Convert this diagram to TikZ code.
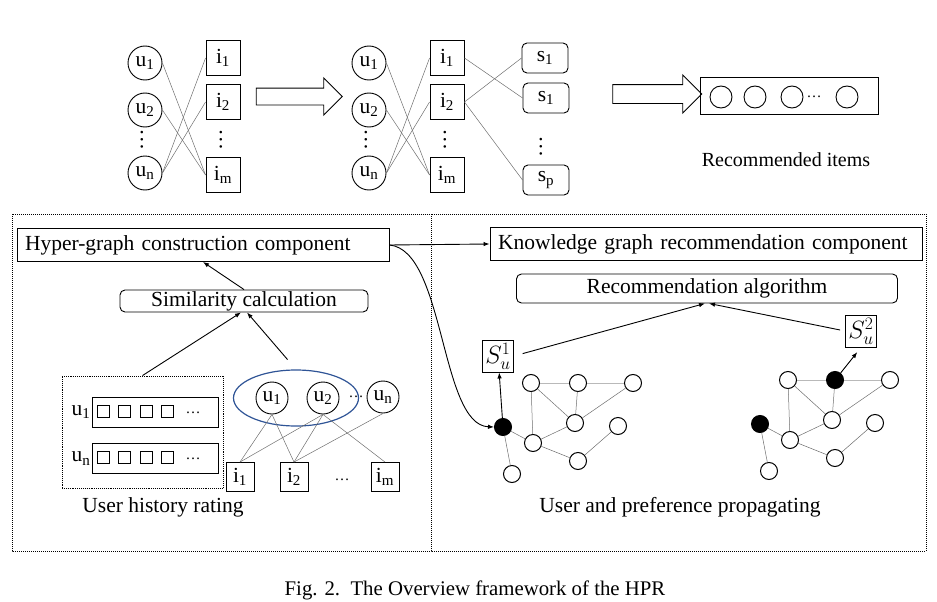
\RequirePackage{fix-cm}
\documentclass[tikz,border=0pt]{standalone}
\usepackage{fontspec}
\setmainfont{Liberation Serif}
\usepackage{graphicx}
\usetikzlibrary{arrows.meta,positioning,shapes.geometric,shapes.arrows}
\definecolor{HyperBlue}{RGB}{47,84,150}
\definecolor{LinkGray}{RGB}{110,110,110}
\definecolor{SoftGray}{RGB}{185,185,185}
\newcommand{\vdotstext}{\rotatebox{90}{\dots}}
\tikzset{
  user/.style={circle,draw,line width=0.9pt,minimum size=34pt,inner sep=0pt},
  item/.style={draw,line width=0.9pt,minimum width=34pt,minimum height=35pt,inner sep=0pt},
  seed/.style={draw,rounded corners=5pt,line width=0.9pt,minimum width=46pt,minimum height=30pt,inner sep=0pt},
  link/.style={draw=LinkGray,line width=0.5pt},
  conn/.style={draw,line width=0.9pt},
  bigarrow/.style={single arrow,draw,line width=0.9pt,inner xsep=0pt,shape border rotate=0},
  slot/.style={circle,draw,line width=0.9pt,minimum size=22pt,inner sep=0pt},
  comp/.style={draw,line width=0.9pt,minimum height=33pt,inner xsep=8pt,inner ysep=0pt,align=left},
  algo/.style={draw,rounded corners=5pt,line width=0.9pt,inner ysep=0pt},
  cell/.style={draw,line width=0.9pt,minimum size=12pt,inner sep=0pt},
  row/.style={draw,line width=0.9pt,minimum width=126pt,minimum height=30pt,inner sep=0pt},
  huser/.style={user,minimum size=32pt},
  hitem/.style={item,minimum width=28pt,minimum height=29pt},
  ent/.style={circle,draw,line width=1pt,minimum size=17pt,inner sep=0pt,fill=white},
  hit/.style={ent,fill=black},
  frame/.style={draw,densely dotted,line width=1pt},
  seedbox/.style={draw,line width=0.9pt,minimum width=31pt,minimum height=32pt,inner sep=0pt,font=\fontsize{25}{28}\selectfont},
  dotsmall/.style={font=\fontsize{15}{15}\selectfont,inner sep=0pt},
  vdot/.style={inner sep=0pt},
}

\begin{document}
\begin{tikzpicture}[x=1pt,y=-1pt,>={Latex[length=6pt,width=4.5pt]},font=\fontsize{21.5}{25}\selectfont]
\useasboundingbox (0,0) rectangle (937,602);

% top row: bipartite graphs
\foreach \k/\ox in {A/0,B/224}{
  \begin{scope}[xshift=\ox]
    \node[user] (\k-u1) at (145,63) {u\textsubscript{1}};
    \node[user] (\k-u2) at (145,110) {u\textsubscript{2}};
    \node[vdot] (\k-ud) at (142,140) {\vdotstext};
    \node[user] (\k-un) at (145,173) {u\textsubscript{n}};
    \node[item] (\k-i1) at (223,58) {i\textsubscript{1}};
    \node[item] (\k-i2) at (223,102) {i\textsubscript{2}};
    \node[vdot] (\k-id) at (221,140) {\vdotstext};
    \node[item] (\k-im) at (223,175) {i\textsubscript{m}};
    \draw[link] (\k-u1.east) -- (\k-im.west);
    \draw[link] (\k-u2.east) -- (\k-im.west);
    \draw[link] (\k-un.east) -- (\k-i1.west);
    \draw[link] (\k-un.east) -- (\k-i2.west);
  \end{scope}
}
\node[seed] (s1) at (545,58) {s\textsubscript{1}};
\node[seed] (s2) at (546,98) {s\textsubscript{1}};
\node[vdot] (sd) at (541,147) {\vdotstext};
\node[seed] (sp) at (546,180) {s\textsubscript{p}};
\draw[link] (B-i1.east) -- (s2.west);
\draw[link] (B-i2.east) -- (s1.west);
\draw[link] (B-i2.east) -- (sp.west);

\node[bigarrow,minimum height=86pt,inner ysep=8pt,single arrow head extend=10pt] (arrA) at (295,96.5) {};
\node[bigarrow,minimum height=89pt,inner ysep=9pt,single arrow head extend=9.5pt] (arrB) at (652.5,94) {};

\node[draw,line width=0.9pt,minimum width=178pt,minimum height=37pt] (recbox) at (789,95.5) {};
\foreach \x [count=\n] in {721,755,792,847}
  \node[slot] (rec\n) at (\x,97) {};
\node[dotsmall] (recd) at (814,97) {\dots};
\node[font=\fontsize{20}{24}\selectfont] (reclab) at (786,160) {Recommended items};

% bottom frames
\draw[frame] (12,214) rectangle (431,551);
\draw[frame] (431,214) rectangle (926,551);

% left panel
\node[comp,text width=356pt] (hyper) at (203,245) {Hyper-graph construction component};
\node[algo,minimum width=248pt,minimum height=22pt] (sim) at (244,301) {Similarity calculation};
\draw[conn,->] (sim.north) -- (hyper.south);

\node[draw,densely dotted,line width=0.9pt,minimum width=161pt,minimum height=112pt] (rate) at (142.5,432) {};
\node[row] (row1) at (155,412) {};
\node[row] (row2) at (155,458.5) {};
\node[left=0pt of row1,inner sep=1pt] (lab1) {u\textsubscript{1}};
\node[left=0pt of row2,inner sep=1pt] (lab2) {u\textsubscript{n}};
\foreach \x [count=\n] in {103,124,146,167}{
  \node[cell] (ca\n) at (\x,411) {};
  \node[cell] (cb\n) at (\x,457) {};
}
\node[dotsmall] (rowd1) at (193,413) {\dots};
\node[dotsmall] (rowd2) at (193,459) {\dots};
\node (ratelab) at (163,507) {User history rating};

\node[ellipse,draw=HyperBlue,line width=1.2pt,minimum width=125pt,minimum height=56pt,inner sep=0pt] (hyp) at (296,398) {};
\node[huser] (h-u1) at (272,398) {u\textsubscript{1}};
\node[huser] (h-u2) at (323,398) {u\textsubscript{2}};
\node[dotsmall] (h-ud) at (356,397) {\dots};
\node[huser] (h-un) at (383,397) {u\textsubscript{n}};
\node[hitem] (h-i1) at (240,477) {i\textsubscript{1}};
\node[hitem] (h-i2) at (294,477) {i\textsubscript{2}};
\node[dotsmall] (h-id) at (342,480) {\dots};
\node[hitem] (h-im) at (385,477) {i\textsubscript{m}};
\foreach \p/\q in {u1/i1,u1/i2,u2/i1,u2/i2,u2/im,un/i2}
  \draw[link] (h-\p.south) -- (h-\q.north);

\draw[conn,->] (rate.north) -- ([xshift=-3pt]sim.south);
\draw[conn,->,shorten <=13pt] (hyp.north) -- ([xshift=3pt]sim.south);

% right panel
\node[comp,text width=416pt] (know) at (706,244) {Knowledge graph recommendation component};
\node[algo,minimum width=381pt,minimum height=29pt] (ralgo) at (707,288.5) {Recommendation algorithm};
\draw[conn,->] (hyper.east) -- (know.west);

\foreach \g/\ox/\oy/\bs in {1/503/427/ent,2/760/424/hit}{
  \begin{scope}[shift={(\ox,\oy)}]
    \node[hit] (g\g-o) at (0,0) {};
    \node[ent] (g\g-a) at (28,-44) {};
    \node[\bs] (g\g-b) at (75,-44) {};
    \node[ent] (g\g-c) at (130,-44) {};
    \node[ent] (g\g-d) at (72,-4) {};
    \node[ent] (g\g-e) at (115,-1) {};
    \node[ent] (g\g-f) at (30,16) {};
    \node[ent] (g\g-g) at (75,34) {};
    \node[ent] (g\g-h) at (9,47) {};
  \end{scope}
  \draw[link,draw=SoftGray] (g\g-a) -- (g\g-b) -- (g\g-c);
  \foreach \p/\q in {a/f,a/d,b/d,d/c,d/f,f/g,g/e,o/f,o/h}
    \draw[link] (g\g-\p) -- (g\g-\q);
}

\node[seedbox] (S1) at (498,356) {$S_u^1$};
\node[seedbox] (S2) at (861,331) {$S_u^2$};
\draw[conn,->] (g1-o) -- (S1);
\draw[conn,->,shorten >=6pt] (g2-b) -- (S2.south);
\draw[conn,->,shorten <=9pt] (S1.east) -- ([xshift=-2pt]ralgo.south);
\draw[conn,->,shorten <=5pt] (S2.west) -- ([xshift=2pt]ralgo.south);
\draw[conn,->] (hyper.east) .. controls (445,250) and (440,425) .. (g1-o.west);
\node (proplab) at (680,507) {User and preference propagating};

% caption
\node[font=\fontsize{20.8}{24}\selectfont] (cap) at (475,590) {Fig. 2.\ \ The Overview framework of the HPR};
\end{tikzpicture}
\end{document}
